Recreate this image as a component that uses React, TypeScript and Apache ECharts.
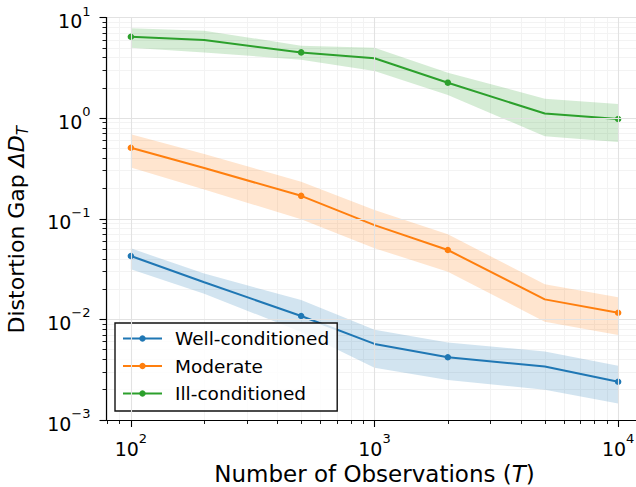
import React, { useEffect, useRef } from "react";
import * as echarts from "echarts";

const xValues = [100, 200, 500, 1000, 2000, 5000, 10000];

const wellMean = [0.0426, 0.0234, 0.0108, 0.0057, 0.0042, 0.0034, 0.0024];
const wellLow = [0.0314, 0.018, 0.0075, 0.0033, 0.0025, 0.002, 0.00146];
const wellHigh = [0.0508, 0.0285, 0.0156, 0.0079, 0.0059, 0.0048, 0.00346];

const modMean = [0.508, 0.319, 0.169, 0.0865, 0.0489, 0.0158, 0.01164];
const modLow = [0.323, 0.195, 0.099, 0.051, 0.0297, 0.00946, 0.00698];
const modHigh = [0.69, 0.44, 0.233, 0.122, 0.07, 0.0224, 0.0166];

const illMean = [6.44, 5.97, 4.5, 3.93, 2.25, 1.11, 0.98];
const illLow = [5.0, 4.5, 3.8, 2.94, 1.7, 0.66, 0.58];
const illHigh = [7.8, 7.4, 5.25, 5.0, 2.83, 1.56, 1.38];

const seriesNames = ["Well-conditioned", "Moderate", "Ill-conditioned"];
const seriesColors = ["#1f77b4", "#ff7f0e", "#2ca02c"];

const xMajorExp = [2, 3, 4];
const yMajorExp = [-3, -2, -1, 0, 1];
const minorMultipliers = [2, 3, 4, 5, 6, 7, 8, 9];

const X_MIN = 1.9;
const X_MAX = 4.1;
const Y_MIN = -3;
const Y_MAX = 1;

const FONT = "DejaVu Sans";
const L = Math.log10;

function minorTicks(lo: number, hi: number, fromExp: number, toExp: number) {
  const out: number[] = [];
  for (let n = fromExp; n <= toExp; n++) {
    for (const k of minorMultipliers) {
      const v = L(k) + n;
      if (v > lo && v < hi) out.push(v);
    }
  }
  return out;
}

const supText = (v: number) => {
  const n = Math.round(v);
  return n < 0 ? "\u2212" + Math.abs(n) : String(n);
};

const tickRich = {
  b: { fontSize: 19, fontFamily: FONT, color: "#000", lineHeight: 26, verticalAlign: "bottom" },
  s: { fontSize: 13, fontFamily: FONT, color: "#000", lineHeight: 12, verticalAlign: "top" },
};

export default function App() {
  const ref = useRef<HTMLDivElement>(null);

  useEffect(() => {
    if (!ref.current) return;
    const chart = echarts.init(ref.current, undefined, { renderer: "svg" });

    const groups = [
      { mean: wellMean, low: wellLow, high: wellHigh },
      { mean: modMean, low: modLow, high: modHigh },
      { mean: illMean, low: illLow, high: illHigh },
    ];

    const bandSeries: any[] = [];
    const lineSeries: any[] = [];
    groups.forEach((g, gi) => {
      const color = seriesColors[gi];
      bandSeries.push({
        name: seriesNames[gi] + " band",
        type: "custom",
        coordinateSystem: "cartesian2d",
        data: xValues.map((x, i) => [L(x), L(g.low[i]), L(g.high[i])]),
        encode: { x: 0, y: [1, 2] },
        clip: true,
        silent: true,
        z: 1,
        renderItem: (params: any, api: any) => {
          if (params.dataIndex !== 0) return null;
          const upper = xValues.map((x, i) => api.coord([L(x), L(g.high[i])]));
          const lower = xValues.map((x, i) => api.coord([L(x), L(g.low[i])])).reverse();
          return {
            type: "polygon",
            shape: { points: upper.concat(lower) },
            style: { fill: color, opacity: 0.2 },
          };
        },
      });
      lineSeries.push({
        name: seriesNames[gi],
        type: "line",
        data: xValues.map((x, i) => ({
          value: [L(x), L(g.mean[i])],
          symbol: i % 2 === 0 ? "circle" : "none",
        })),
        symbol: "circle",
        symbolSize: 6.5,
        lineStyle: { color, width: 2 },
        itemStyle: { color },
        z: 3 + gi,
      });
    });

    const axisLineStyle = { color: "#000", width: 1.2 };

    const option: any = {
      animation: false,
      backgroundColor: "#fff",
      grid: {
        left: 106.5,
        right: 7.5,
        top: 17.5,
        bottom: 67,
        containLabel: false,
        outerBoundsMode: "none",
      },
      legend: {
        data: seriesNames,
        orient: "vertical",
        left: 115,
        top: 323,
        itemWidth: 39,
        itemHeight: 8,
        itemGap: 6.5,
        padding: [5, 8, 7, 7],
        backgroundColor: "rgba(255,255,255,0.8)",
        borderColor: "#111",
        borderWidth: 1.4,
        borderRadius: 0,
        textStyle: { fontSize: 18.5, fontFamily: FONT, color: "#000", lineHeight: 21, padding: [0, 0, 0, 8] },
      },
      xAxis: [
        {
          type: "value",
          min: X_MIN,
          max: X_MAX,
          position: "bottom",
          axisLine: { onZero: false, lineStyle: axisLineStyle },
          axisTick: { customValues: xMajorExp, length: 7, lineStyle: { color: "#000", width: 1.1 } },
          axisLabel: {
            customValues: xMajorExp,
            margin: 12,
            formatter: (v: number) => `{b|10}{s|${supText(v)}}`,
            rich: tickRich,
          },
          splitLine: { show: true, lineStyle: { color: "#e2e2e2", width: 1.1 } },
          name: "Number of Observations ({i|T})",
          nameLocation: "middle",
          nameGap: 36,
          nameTextStyle: {
            fontSize: 23,
            fontFamily: FONT,
            color: "#000",
            rich: { i: { fontSize: 23, fontFamily: FONT, fontStyle: "italic", color: "#000" } },
          },
          z: 10,
        },
        {
          type: "value",
          min: X_MIN,
          max: X_MAX,
          position: "bottom",
          axisLine: { show: false, onZero: false },
          axisTick: { customValues: minorTicks(X_MIN, X_MAX, 1, 4), length: 4, lineStyle: { color: "#000", width: 0.9 } },
          axisLabel: { show: false },
          splitLine: { show: true, lineStyle: { color: "#f3f3f3", width: 1 } },
        },
        {
          type: "value",
          min: X_MIN,
          max: X_MAX,
          position: "top",
          axisLine: { onZero: false, lineStyle: axisLineStyle },
          axisTick: { show: false },
          axisLabel: { show: false },
          splitLine: { show: false },
        },
      ],
      yAxis: [
        {
          type: "value",
          min: Y_MIN,
          max: Y_MAX,
          position: "left",
          axisLine: { show: true, onZero: false, lineStyle: axisLineStyle },
          axisTick: { show: true, customValues: yMajorExp, length: 7, lineStyle: { color: "#000", width: 1.1 } },
          axisLabel: {
            customValues: yMajorExp,
            margin: 16,
            formatter: (v: number) => `{b|10}{s|${supText(v)}}`,
            rich: tickRich,
          },
          splitLine: { show: true, lineStyle: { color: "#e2e2e2", width: 1.1 } },
          name: "Distortion Gap {i|\u0394D}{sub|T}",
          nameLocation: "middle",
          nameRotate: 90,
          nameGap: 76,
          nameTextStyle: {
            fontSize: 22,
            fontFamily: FONT,
            color: "#000",
            lineHeight: 28,
            padding: [0, 22, 0, 0],
            rich: {
              i: { fontSize: 22, fontFamily: FONT, fontStyle: "italic", color: "#000", lineHeight: 28 },
              sub: { fontSize: 15, fontFamily: FONT, fontStyle: "italic", color: "#000", lineHeight: 14, verticalAlign: "bottom" },
            },
          },
          z: 10,
        },
        {
          type: "value",
          min: Y_MIN,
          max: Y_MAX,
          position: "left",
          axisLine: { show: false, onZero: false },
          axisTick: { show: true, customValues: minorTicks(Y_MIN, Y_MAX, -3, 0), length: 4, lineStyle: { color: "#000", width: 0.9 } },
          axisLabel: { show: false },
          splitLine: { show: true, lineStyle: { color: "#f3f3f3", width: 1 } },
        },
      ],
      series: [...bandSeries, ...lineSeries],
    };

    chart.setOption(option);
    return () => chart.dispose();
  }, []);

  return (
    <div
      ref={ref}
      style={{ position: "fixed", left: 0, top: 0, width: 650, height: 487 }}
    />
  );
}
